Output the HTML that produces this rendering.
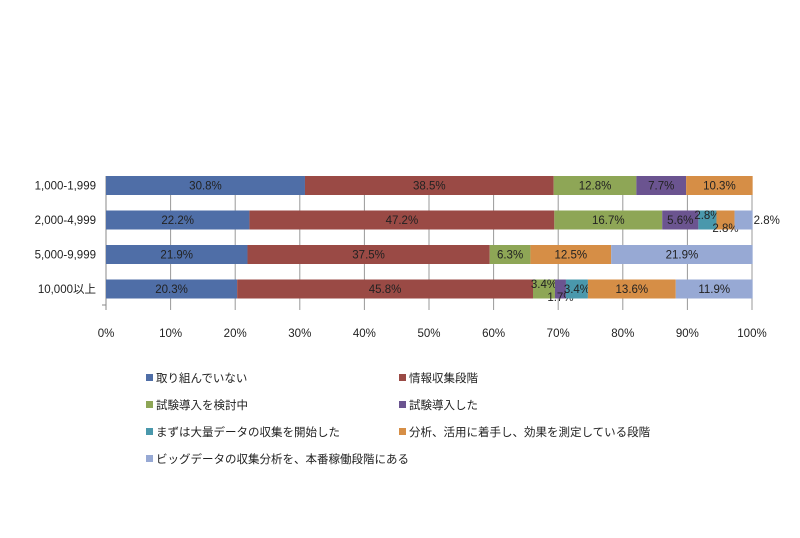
<!DOCTYPE html>
<html><head><meta charset="utf-8"><style>
body{margin:0;background:#fff;}
svg text{font-family:"Liberation Sans","Noto Sans CJK JP",sans-serif;font-size:11.5px;fill:#222;}
</style></head><body>
<svg width="800" height="533" id="c"></svg>
<script>
const categories=["1,000-1,999","2,000-4,999","5,000-9,999","10,000以上"];
const seriesNames=["取り組んでいない","情報収集段階","試験導入を検討中","試験導入した","まずは大量データの収集を開始した","分析、活用に着手し、効果を測定している段階","ビッグデータの収集分析を、本番稼働段階にある"];
const s1=[30.8,22.2,21.9,20.3];
const s2=[38.5,47.2,37.5,45.8];
const s3=[12.8,16.7,6.3,3.4];
const s4=[7.7,5.6,0,1.7];
const s5=[0,2.8,0,3.4];
const s6=[10.3,2.8,12.5,13.6];
const s7=[0,2.8,21.9,11.9];
const ticks=[0,10,20,30,40,50,60,70,80,90,100];
const series=[s1,s2,s3,s4,s5,s6,s7];
const colors=["#4F6EA7","#9A4A45","#8EA656","#6B5490","#4A98AC","#D68E46","#97A9D4"];
const NS="http://www.w3.org/2000/svg";
const svg=document.getElementById('c');
const X0=106,W=646,Y0=176,PITCH=34.5,BH=19;
const x=v=>X0+v/100*W;
const y=i=>Y0+i*PITCH;
function mk(t,a,p){const e=document.createElementNS(NS,t);for(const k in a)e.setAttribute(k,a[k]);(p||svg).appendChild(e);return e;}
ticks.forEach(t=>{const l=mk('line',{x1:x(t),x2:x(t),y1:Y0,y2:310,stroke:t===0?'#888':'#999','stroke-width':1});


const tx=mk('text',{x:x(t),y:337,'text-anchor':'middle'});tx.textContent=t+'%';

});
mk('line',{x1:X0-4,x2:X0,y1:305,y2:305,stroke:'#888'});
categories.forEach((c,i)=>{
 const t=mk('text',{x:X0-10,y:y(i)+BH/2+4,'text-anchor':'end'});t.textContent=c;
 
 
 let acc=0;
 series.forEach((s,j)=>{
  const v=s[i];if(!v){return;}
  const r=mk('rect',{x:x(acc),y:y(i),width:x(acc+v)-x(acc),height:BH,fill:colors[j]});
  
  
  let cx=(x(acc)+x(acc+v))/2,cy=y(i)+BH/2+4,anchor='middle';
  if(j===6&&v<4){cx=x(acc+v)+1;anchor='start';}
  else if((j===5||j===3)&&v<3){cy+=8;}
  else if((j===4&&v<3)||(j===2&&v<4)){cy-=5;}
  const lt=mk('text',{x:cx,y:cy,'text-anchor':anchor});lt.textContent=v.toFixed(1)+'%';
  
  
  acc+=v;
 });
});
seriesNames.forEach((n,j)=>{
 const col=j%2,row=Math.floor(j/2);
 const lx=col?399:146,ly=378+row*27;
 const g=mk('g',{});
 
 
 mk('rect',{x:lx,y:ly-4,width:7,height:7,fill:colors[j]},g);
 const t=mk('text',{x:lx+10,y:ly+4},g);t.textContent=n;
});
</script>
</body></html>
